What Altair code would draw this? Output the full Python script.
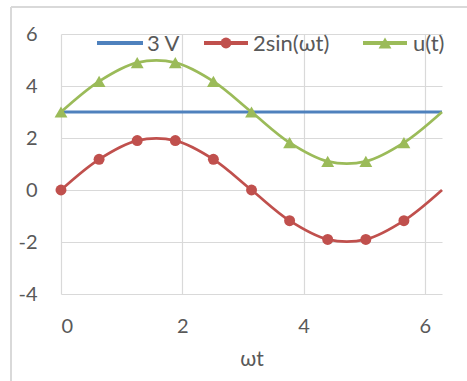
import altair as alt
import pandas as pd

# values
wt = [0, 0.628, 1.257, 1.885, 2.513, 3.142, 3.770, 4.398, 5.027, 5.655, 6.283]
dc = [3, 3, 3, 3, 3, 3, 3, 3, 3, 3, 3]
sin2 = [0, 1.18, 1.90, 1.90, 1.18, 0, -1.18, -1.90, -1.90, -1.18, 0]
u = [3, 4.18, 4.90, 4.90, 4.18, 3, 1.82, 1.10, 1.10, 1.82, 3]
has_marker = [True] * 10 + [False]

series_names = ["3 V", "2sin(ωt)", "u(t)"]
colors = ["#4F81BD", "#C0504D", "#9BBB59"]

df = pd.DataFrame({"wt": wt, "dc": dc, "sin2": sin2, "u": u, "m": has_marker})

FONT = "Lato"
TXT = "#595959"

xs = alt.Scale(domain=[0, 6.283], nice=False, zero=False)
ys = alt.Scale(domain=[-4, 6], nice=False)

xax = alt.Axis(values=[0, 2, 4, 6], title="ωt", grid=True, domain=False, ticks=False,
               labelExpr="'' + datum.value",
               labelFontSize=20, labelFont=FONT, labelColor=TXT, labelPadding=22,
               titleFont=FONT, titleFontSize=21, titleColor=TXT, titleFontWeight="normal",
               titlePadding=12, gridColor="#d9d9d9", gridWidth=1.2)
yax = alt.Axis(values=[-4, -2, 0, 2, 4, 6], title=None, grid=True, domain=False, ticks=False,
               labelExpr="'' + datum.value",
               labelFontSize=20, labelFont=FONT, labelColor=TXT, labelPadding=24,
               gridColor="#d9d9d9", gridWidth=1.2)

base = alt.Chart(df)

blue = base.mark_line(color=colors[0], strokeWidth=3).encode(
    x=alt.X("wt:Q", scale=xs, axis=xax), y=alt.Y("dc:Q", scale=ys, axis=yax))
red = base.mark_line(color=colors[1], strokeWidth=2.7, interpolate="catmull-rom").encode(
    x=alt.X("wt:Q", scale=xs), y=alt.Y("sin2:Q", scale=ys))
green = base.mark_line(color=colors[2], strokeWidth=2.7, interpolate="catmull-rom").encode(
    x=alt.X("wt:Q", scale=xs), y=alt.Y("u:Q", scale=ys))
red_pts = base.transform_filter("datum.m").mark_point(
    shape="circle", filled=True, opacity=1, size=120, color=colors[1]).encode(
    x=alt.X("wt:Q", scale=xs), y=alt.Y("sin2:Q", scale=ys))
green_pts = base.transform_filter("datum.m").mark_point(
    shape="triangle-up", filled=True, opacity=1, size=165, color=colors[2]).encode(
    x=alt.X("wt:Q", scale=xs), y=alt.Y("u:Q", scale=ys))

# legend (manual, inside top of plot)
ly = 9
leg = []
segs = [(36, 82), (143, 187), (302, 346)]
txt_x = [86, 192, 352]
mk = [None, ("circle", 120), ("triangle-up", 165)]
for i in range(3):
    leg.append(alt.Chart(df).mark_rule(color=colors[i], strokeWidth=3).encode(
        x=alt.value(segs[i][0]), x2=alt.value(segs[i][1]), y=alt.value(ly)))
    leg.append(alt.Chart(pd.DataFrame({"t": [series_names[i]]})).mark_text(
        align="left", baseline="middle", font=FONT, fontSize=22, color=TXT).encode(
        x=alt.value(txt_x[i]), y=alt.value(ly + 1), text="t:N"))
    if mk[i]:
        leg.append(alt.Chart(pd.DataFrame({"a": [0]})).mark_point(
            shape=mk[i][0], filled=True, opacity=1, size=mk[i][1], color=colors[i]).encode(
            x=alt.value((segs[i][0] + segs[i][1]) / 2), y=alt.value(ly)))

border_l = alt.Chart(pd.DataFrame({"a": [0]})).mark_rule(color="#d9d9d9", strokeWidth=2).encode(
    x=alt.value(-50), y=alt.value(-27), y2=alt.value(400))
border_t = alt.Chart(pd.DataFrame({"a": [0]})).mark_rule(color="#d9d9d9", strokeWidth=2).encode(
    x=alt.value(-50), x2=alt.value(500), y=alt.value(-27))

chart = alt.layer(blue, red, green, red_pts, green_pts, *leg, border_l, border_t).properties(
    width=381, height=260,
    autosize=alt.AutoSizeParams(type="none"),
    padding={"left": 61, "top": 34, "right": 25, "bottom": 87},
    background="white",
).configure_view(stroke=None)

chart.save("out.html", embed_options={"renderer": "svg", "actions": False})
